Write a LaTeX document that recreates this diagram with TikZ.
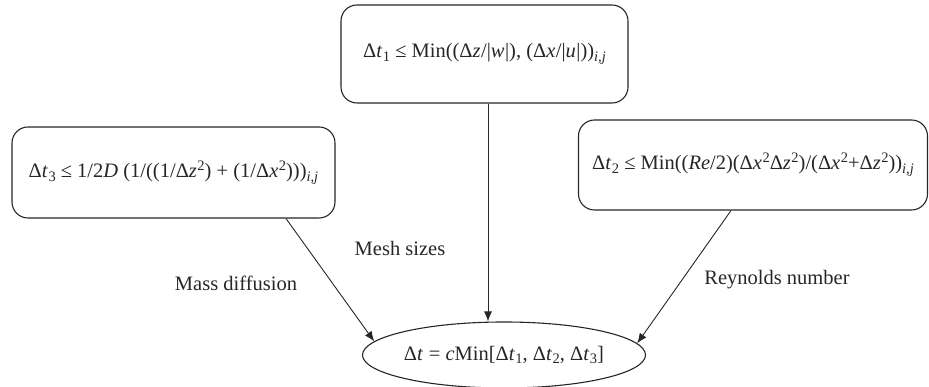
\documentclass[tikz,border=0pt]{standalone}
\usepackage{fontspec}
\setmainfont{Liberation Serif}
\usetikzlibrary{arrows.meta,shapes.geometric,calc}
\newcommand\lo[1]{\raisebox{-0.4ex}{\fontsize{14.5}{14.5}\selectfont #1}}
\newcommand\hi[1]{\raisebox{0.75ex}{\fontsize{14.5}{14.5}\selectfont #1}}
\newcommand\vv[1]{\textit{#1}\kern0.5pt}
\tikzset{
  fbox/.style={draw=black!85, line width=1.1pt, rounded corners=16pt, inner sep=0pt, text=black!85, font=\fontsize{20.5}{24}\selectfont},
  resnode/.style={draw=black!85, line width=1.1pt, ellipse, inner sep=0pt, minimum width=282pt, minimum height=66pt, text=black!85, font=\fontsize{20.5}{24}\selectfont},
  arr/.style={draw=black!85, line width=0.9pt, -{Latex[length=10pt,width=8pt]}},
  lbl/.style={text=black!85, font=\fontsize{20.5}{24}\selectfont, inner sep=0pt}
}
\begin{document}
\begin{tikzpicture}[x=1pt,y=1pt]
\useasboundingbox (0,0) rectangle (929,387);
\node[fbox, minimum width=287pt, minimum height=98pt] (top) at (484.5,333)
  {\raisebox{6pt}{Δ\vv{t}\lo{1} ≤ Min((Δ\vv{z}/|\vv{w}|), (Δ\vv{x}/|\vv{u}|))\lo{\textit{i,j}}}};
\node[fbox, minimum width=323pt, minimum height=91pt] (left) at (173.5,214.5)
  {\raisebox{2pt}{Δ\vv{t}\lo{3} ≤ 1/2\textit{D} (1/((1/Δ\vv{z}\hi{2}) + (1/Δ\vv{x}\hi{2})))\lo{\textit{i,j}}}};
\node[fbox, minimum width=349pt, minimum height=90pt] (right) at (753,222)
  {\raisebox{8pt}{Δ\vv{t}\lo{2} ≤ Min((\textit{Re}/2)(Δ\vv{x}\hi{2}Δ\vv{z}\hi{2})/(Δ\vv{x}\hi{2}+Δ\vv{z}\hi{2}))\lo{\textit{i,j}}}};
\node[resnode] (res) at (504,32)
  {Δ\vv{t}{} = \textit{c}Min[Δ\vv{t}\lo{1}, Δ\vv{t}\lo{2}, Δ\vv{t}\lo{3}]};
\coordinate (ts) at ($(top.south)+(3.5,0)$);
\coordinate (ls) at ($(left.south)+(112.5,0)$);
\coordinate (rs) at ($(right.south)+(-22,0)$);
\draw[arr] (ts) -- (ts |- res.north);
\draw[arr] (ls) -- (res.174.8);
\draw[arr] (rs) -- (res.5);
\node[lbl] (mesh) at (400,139) {Mesh sizes};
\node[lbl] (mass) at (236,104) {Mass diffusion};
\node[lbl] (reyn) at (777,107) {Reynolds number};
\end{tikzpicture}
\end{document}
